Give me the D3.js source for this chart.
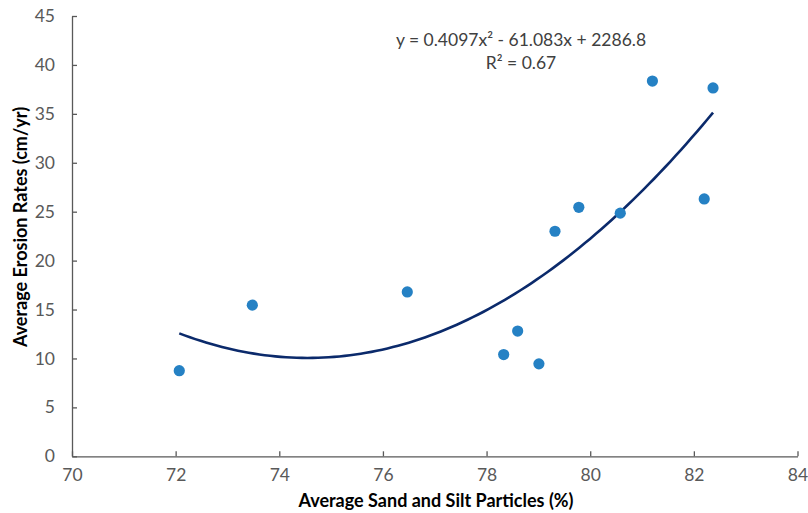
<!DOCTYPE html>
<html><head><meta charset="utf-8">
<script src="https://cdn.jsdelivr.net/npm/d3@7"></script>
<style>
body{margin:0;background:#fff;}
svg{display:block;font-family:Lato,"Open Sans",sans-serif;}
</style></head>
<body><svg id="c" width="808" height="513"></svg>
<script>
const sandSilt = [72.07, 73.48, 76.47, 78.33, 78.60, 79.01, 79.32, 79.78, 80.58, 81.20, 82.20, 82.37];
const erosion  = [8.75, 15.45, 16.8, 10.4, 12.8, 9.45, 23.0, 25.45, 24.85, 38.35, 26.3, 37.65];
const xTicks = [70, 72, 74, 76, 78, 80, 82, 84];
const yTicks = [0, 5, 10, 15, 20, 25, 30, 35, 40, 45];
const trendCoef = [0.4097, -61.083, 2286.8];
const eqLabel = ["y = 0.4097x² - 61.083x + 2286.8", "R² = 0.67"];
const xTitle = "Average Sand and Silt Particles (%)";
const yTitle = "Average Erosion Rates (cm/yr)";

const svg = d3.select("#c");
const L = 72, R = 797.5, T = 16, B = 456.3;
const x = d3.scaleLinear().domain([70, 84]).range([L, R]);
const y = d3.scaleLinear().domain([0, 45]).range([B, T]);
const axisColor = "#595959";

const gx = svg.append("g").attr("transform", `translate(0,${B})`)
  .call(d3.axisBottom(x).tickValues(xTicks).tickSizeInner(-5).tickSizeOuter(0).tickPadding(12));
const gy = svg.append("g").attr("transform", `translate(${L},0)`)
  .call(d3.axisLeft(y).tickValues(yTicks).tickSizeInner(-5).tickSizeOuter(0).tickPadding(17));
[gx, gy].forEach(g => {
  g.select(".domain").attr("stroke", axisColor).attr("stroke-width", 1.3);
  g.selectAll(".tick line").attr("stroke", axisColor).attr("stroke-width", 1.3);
  g.selectAll(".tick text").attr("fill", axisColor).attr("font-size", 17.5).attr("font-family", "Lato, sans-serif");
});

// trendline
const xmin = d3.min(sandSilt), xmax = d3.max(sandSilt);
const f = v => trendCoef[0]*v*v + trendCoef[1]*v + trendCoef[2];
const pts = d3.range(0, 101).map(i => { const v = xmin + (xmax - xmin)*i/100; return [v, f(v)]; });
svg.append("path").datum(pts)
  .attr("d", d3.line().x(d => x(d[0])).y(d => y(d[1])))
  .attr("fill", "none").attr("stroke", "#0b2a6b").attr("stroke-width", 2.6);

// points
svg.append("g").selectAll("circle").data(sandSilt.map((v, i) => [v, erosion[i]])).join("circle")
  .attr("cx", d => x(d[0])).attr("cy", d => y(d[1])).attr("r", 5.6)
  .attr("fill", "#2581c4");

// equation
svg.append("text").attr("x", 521).attr("y", 46).attr("text-anchor", "middle")
  .attr("font-size", 17.5).attr("fill", "#404040").text(eqLabel[0]);
svg.append("text").attr("x", 521).attr("y", 69).attr("text-anchor", "middle")
  .attr("font-size", 17.5).attr("fill", "#404040").text(eqLabel[1]);

// titles
svg.append("text").attr("x", 436).attr("y", 507).attr("text-anchor", "middle")
  .attr("font-size", 18).attr("font-weight", "bold").attr("fill", "#000").text(xTitle);
svg.append("text").attr("transform", "translate(27,227) rotate(-90)").attr("text-anchor", "middle")
  .attr("font-size", 18).attr("font-weight", "bold").attr("fill", "#000").text(yTitle);
</script></body></html>
